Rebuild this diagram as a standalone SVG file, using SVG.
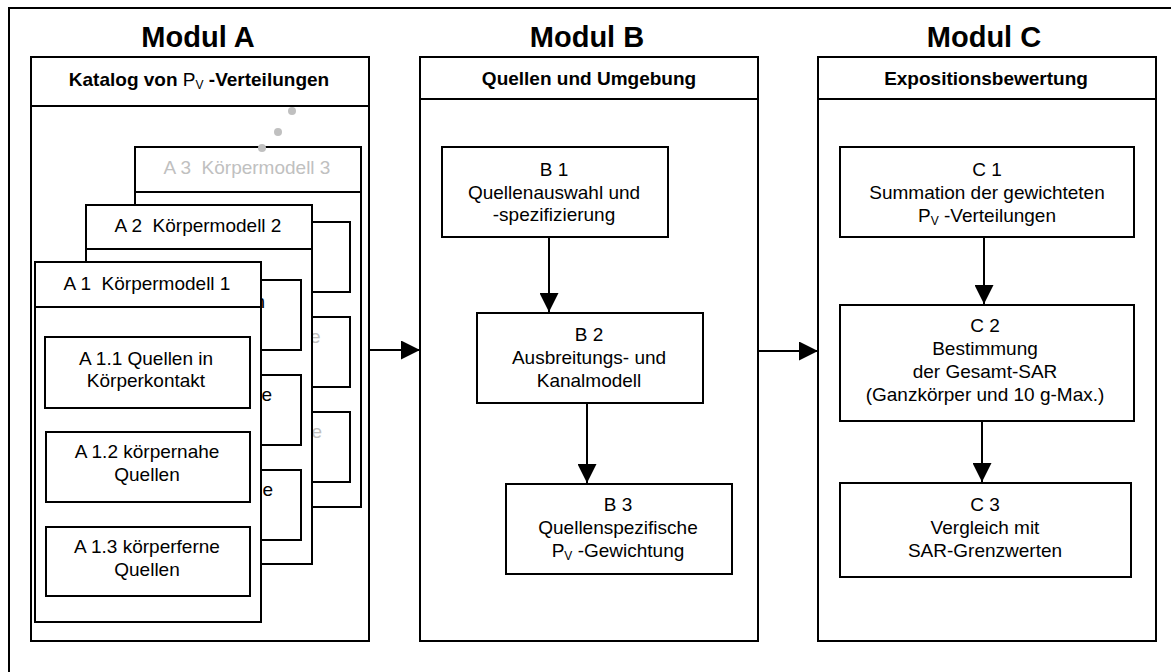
<svg xmlns="http://www.w3.org/2000/svg" width="1171" height="672" viewBox="0 0 1171 672">
<defs>
<style>
.box{fill:#fff;stroke:#000;stroke-width:2}
.ln{stroke:#000;stroke-width:2;fill:none}
.t{font-family:"Liberation Sans",Arial,sans-serif;font-size:19px;fill:#000;text-anchor:middle}
.s{text-anchor:start}
.b{font-weight:bold}
.title{font-family:"Liberation Sans",Arial,sans-serif;font-size:29px;font-weight:bold;fill:#000;text-anchor:middle}
.g{fill:#c0c0c0}
.sub{font-size:12px;font-weight:normal}
.nw{font-weight:normal}
.conn line{stroke:#000;stroke-width:2}
.dot{fill:#c0c0c0}
</style>
<marker id="ah" viewBox="0 0 20 20" refX="20" refY="10" markerWidth="19" markerHeight="19" markerUnits="userSpaceOnUse" orient="auto"><path d="M0,0 L20,10 L0,20 z" fill="#000"/></marker>
</defs>
<rect x="0" y="0" width="1171" height="672" fill="#fff"/>
<rect x="9" y="8" width="1200" height="700" class="ln"/>

<g id="modulA">
<text class="title" x="198" y="47">Modul A</text>
<rect class="box" x="31" y="57" width="338" height="584"/>
<line class="ln" x1="31" y1="106" x2="369" y2="106"/>
<text class="t b" x="199" y="86">Katalog von <tspan class="nw">P</tspan><tspan class="sub" dy="3">V</tspan><tspan dy="-3"> -Verteilungen</tspan></text>
</g>

<g id="A3" transform="translate(135,147)">
<rect class="box" x="0" y="0" width="226" height="360"/>
<line class="ln" x1="0" y1="45" x2="226" y2="45"/>
<text class="t g" x="112" y="27" xml:space="preserve">A 3  Körpermodell 3</text>
<rect class="box" x="10" y="75" width="205" height="70"/>
<rect class="box" x="10" y="170" width="205" height="70"/>
<text class="t g s" x="175" y="196">e</text>
<rect class="box" x="10" y="265" width="205" height="70"/>
<text class="t g s" x="176.5" y="291">e</text>
</g>

<g id="dots">
<circle class="dot" cx="292" cy="111" r="4"/>
<circle class="dot" cx="278" cy="132" r="4"/>
<circle class="dot" cx="262" cy="148" r="4"/>
</g>

<g id="A2" transform="translate(86,205)">
<rect class="box" x="0" y="0" width="226" height="359"/>
<line class="ln" x1="0" y1="44" x2="226" y2="44"/>
<text class="t" x="112" y="27" xml:space="preserve">A 2  Körpermodell 2</text>
<rect class="box" x="10" y="75" width="205" height="70"/>
<text class="t s" x="168.5" y="103">n</text>
<rect class="box" x="10" y="170" width="205" height="70"/>
<text class="t s" x="175.5" y="196">e</text>
<rect class="box" x="10" y="265" width="205" height="70"/>
<text class="t s" x="176.5" y="291">e</text>
</g>

<g id="A1" transform="translate(35,262)">
<rect class="box" x="0" y="0" width="226" height="360"/>
<line class="ln" x1="0" y1="45" x2="226" y2="45"/>
<text class="t" x="112" y="28" xml:space="preserve">A 1  Körpermodell 1</text>
<rect class="box" x="10" y="75" width="205" height="71"/>
<text class="t" x="111" y="103">A 1.1 Quellen in</text>
<text class="t" x="111" y="125">Körperkontakt</text>
<rect class="box" x="11" y="170" width="204" height="70"/>
<text class="t" x="112" y="196">A 1.2 körpernahe</text>
<text class="t" x="112" y="219">Quellen</text>
<rect class="box" x="11" y="265" width="204" height="69"/>
<text class="t" x="112" y="291">A 1.3 körperferne</text>
<text class="t" x="112" y="314">Quellen</text>
</g>

<g id="modulB">
<text class="title" x="587" y="47">Modul B</text>
<rect class="box" x="420" y="57" width="338" height="584"/>
<line class="ln" x1="420" y1="99" x2="758" y2="99"/>
<text class="t b" x="589" y="85">Quellen und Umgebung</text>
</g>

<g id="B1">
<rect class="box" x="442" y="147" width="226" height="90"/>
<text class="t" x="554" y="176">B 1</text>
<text class="t" x="554" y="199">Quellenauswahl und</text>
<text class="t" x="554" y="221">-spezifizierung</text>
</g>

<g id="B2">
<rect class="box" x="477" y="313" width="226" height="90"/>
<text class="t" x="589" y="341">B 2</text>
<text class="t" x="589" y="364">Ausbreitungs- und</text>
<text class="t" x="589" y="387">Kanalmodell</text>
</g>

<g id="B3">
<rect class="box" x="506" y="484" width="226" height="90"/>
<text class="t" x="618" y="511">B 3</text>
<text class="t" x="618" y="534">Quellenspezifische</text>
<text class="t" x="618" y="557">P<tspan class="sub" dy="3">V</tspan><tspan dy="-3"> -Gewichtung</tspan></text>
</g>

<g id="modulC">
<text class="title" x="984" y="47">Modul C</text>
<rect class="box" x="818" y="57" width="338" height="584"/>
<line class="ln" x1="818" y1="99" x2="1156" y2="99"/>
<text class="t b" x="986" y="85">Expositionsbewertung</text>
</g>

<g id="C1">
<rect class="box" x="840" y="147" width="294" height="90"/>
<text class="t" x="987" y="176">C 1</text>
<text class="t" x="987" y="199">Summation der gewichteten</text>
<text class="t" x="987" y="222">P<tspan class="sub" dy="3">V</tspan><tspan dy="-3"> -Verteilungen</tspan></text>
</g>

<g id="C2">
<rect class="box" x="840" y="305" width="294" height="116"/>
<text class="t" x="985" y="332">C 2</text>
<text class="t" x="985" y="355">Bestimmung</text>
<text class="t" x="985" y="378">der Gesamt-SAR</text>
<text class="t" x="985" y="401">(Ganzkörper und 10 g-Max.)</text>
</g>

<g id="C3">
<rect class="box" x="840" y="483" width="291" height="94"/>
<text class="t" x="985" y="511">C 3</text>
<text class="t" x="985" y="534">Vergleich mit</text>
<text class="t" x="985" y="557">SAR-Grenzwerten</text>
</g>

<g id="connectors" class="conn">
<line x1="369" y1="350" x2="420" y2="350" marker-end="url(#ah)"/>
<line x1="758" y1="351" x2="818" y2="351" marker-end="url(#ah)"/>
<line x1="549" y1="237" x2="549" y2="312" marker-end="url(#ah)"/>
<line x1="587" y1="403" x2="587" y2="483" marker-end="url(#ah)"/>
<line x1="984" y1="237" x2="984" y2="304" marker-end="url(#ah)"/>
<line x1="982" y1="421" x2="982" y2="482" marker-end="url(#ah)"/>
</g>
</svg>
